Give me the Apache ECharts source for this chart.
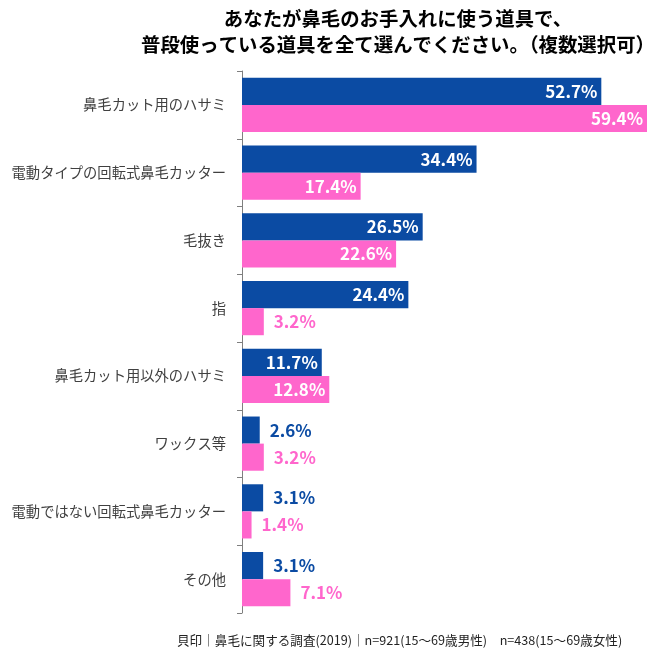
<!DOCTYPE html>
<html><head><meta charset="utf-8">
<script src="https://cdn.jsdelivr.net/npm/echarts@6/dist/echarts.min.js"></script>
<style>html,body{margin:0;padding:0;background:#fff}#c{width:648px;height:648px}</style>
</head><body><div id="c"></div>
<script>
const titleLines = ['あなたが鼻毛のお手入れに使う道具で、', '普段使っている道具を全て選んでください。（複数選択可）'];
const categories = ['鼻毛カット用のハサミ','電動タイプの回転式鼻毛カッター','毛抜き','指','鼻毛カット用以外のハサミ','ワックス等','電動ではない回転式鼻毛カッター','その他'];
const maleValues = [52.7, 34.4, 26.5, 24.4, 11.7, 2.6, 3.1, 3.1];
const femaleValues = [59.4, 17.4, 22.6, 3.2, 12.8, 3.2, 1.4, 7.1];
const footnote = '貝印｜鼻毛に関する調査(2019)｜n=921(15～69歳男性)　n=438(15～69歳女性)';

const BLUE = '#0B4BA3', PINK = '#FF66CC';
const FONT = '"Noto Sans CJK JP","Noto Sans",sans-serif';

function mkData(vals, color) {
  return vals.map(v => {
    const inside = v >= 10;
    return {
      value: v,
      label: inside
        ? { position: 'insideRight', color: '#fff', distance: 4 }
        : { position: 'right', color: color, distance: 10 }
    };
  });
}

const chart = echarts.init(document.getElementById('c'));
chart.setOption({
  animation: false,
  backgroundColor: '#fff',
  title: [
    { text: titleLines[0], left: 393, textAlign: 'center', top: 4, textStyle: { fontSize: 19.4, fontWeight: 'bold', color: '#000', fontFamily: FONT } },
    { text: titleLines[1], left: 393, textAlign: 'center', top: 30, textStyle: { fontSize: 19.4, fontWeight: 'bold', color: '#000', fontFamily: FONT } },
    { text: footnote, left: 172, top: 629, textStyle: { fontSize: 12.6, fontWeight: 'normal', color: '#222', fontFamily: FONT } }
  ],
  grid: { left: 242, right: 1, top: 71, bottom: 35, containLabel: false },
  xAxis: { type: 'value', min: 0, max: 59.4, show: false },
  yAxis: {
    type: 'category', data: categories, inverse: true,
    axisLine: { show: true, lineStyle: { color: '#7f7f7f', width: 1 } },
    axisTick: { show: true, length: 5, lineStyle: { color: '#7f7f7f' } },
    axisLabel: { margin: 16, fontSize: 14.3, color: '#404040', fontFamily: FONT }
  },
  series: [
    { type: 'bar', name: '男性', data: mkData(maleValues, BLUE), itemStyle: { color: BLUE },
      barGap: '0%', barCategoryGap: '20%',
      label: { show: true, fontSize: 17, fontWeight: 'bold', fontFamily: FONT, formatter: p => p.value.toFixed(1) + '%' } },
    { type: 'bar', name: '女性', data: mkData(femaleValues, PINK), itemStyle: { color: PINK },
      barGap: '0%', barCategoryGap: '20%',
      label: { show: true, fontSize: 17, fontWeight: 'bold', fontFamily: FONT, formatter: p => p.value.toFixed(1) + '%' } }
  ]
});
</script></body></html>
